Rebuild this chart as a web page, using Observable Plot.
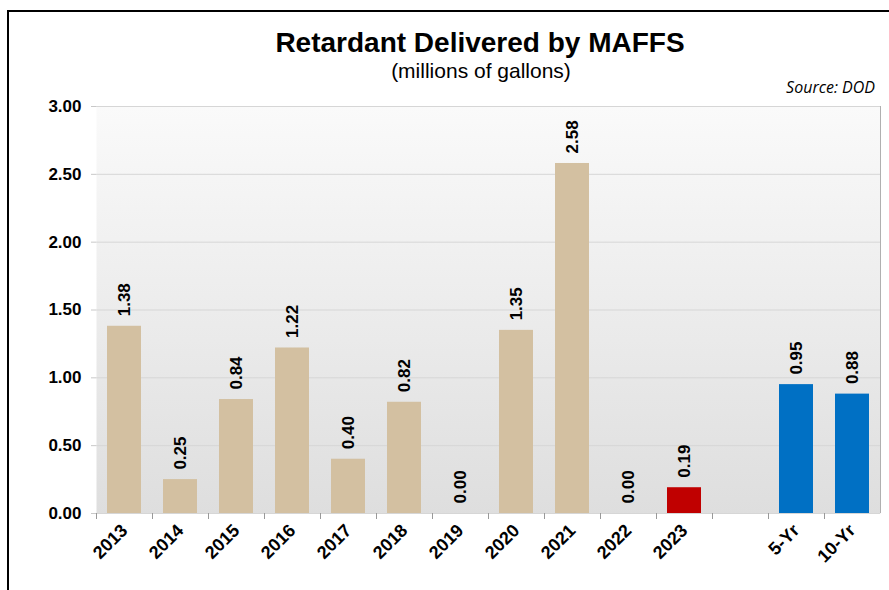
<!DOCTYPE html>
<html>
<head>
<meta charset="utf-8">
<script src="https://cdn.jsdelivr.net/npm/d3@7"></script>
<script src="https://cdn.jsdelivr.net/npm/@observablehq/plot@0.6"></script>
<style>
  html, body { margin: 0; padding: 0; background: #fff; }
  #wrap { position: relative; width: 889px; height: 590px; overflow: hidden; background: #fff; font-family: "Liberation Sans", Arial, sans-serif; }
  #border { position: absolute; left: 7px; top: 10px; right: -10px; bottom: -10px; border-left: 2px solid #000; border-top: 2px solid #000; }
  #title { position: absolute; left: 0; width: 960px; top: 29px; text-align: center; font-size: 28px; font-weight: bold; line-height: 1; color: #000; }
  #subtitle { position: absolute; left: 0; width: 962px; top: 60px; text-align: center; font-size: 21px; line-height: 1; color: #000; }
  #source { position: absolute; right: 14px; top: 79px; font-family: "Open Sans", sans-serif; font-style: italic; font-size: 16px; line-height: 1; color: #000; }
  #chart { position: absolute; left: 0; top: 95px; }
</style>
</head>
<body>
<div id="wrap">
  <div id="border"></div>
  <div id="title">Retardant Delivered by MAFFS</div>
  <div id="subtitle">(millions of gallons)</div>
  <div id="source">Source: DOD</div>
  <div id="chart"></div>
</div>
<script>
const categories = ["2013","2014","2015","2016","2017","2018","2019","2020","2021","2022","2023"," ","5-Yr","10-Yr"];
const values = [1.38, 0.25, 0.84, 1.22, 0.40, 0.82, 0.00, 1.35, 2.58, 0.00, 0.19, null, 0.95, 0.88];
const kinds = ["year","year","year","year","year","year","year","year","year","year","current",null,"average","average"];
const kindDomain = ["year", "current", "average"];
const kindColors = ["#d3c0a1", "#c00000", "#0070c4"];
const yTicks = [0, 0.5, 1.0, 1.5, 2.0, 2.5, 3.0];

const data = categories.map((c, i) => ({cat: c, value: values[i], kind: kinds[i]})).filter(d => d.value !== null);

const chart = Plot.plot({
  width: 889,
  height: 495,
  marginTop: 11,
  marginBottom: 77,
  marginLeft: 96,
  marginRight: 9,
  style: {fontFamily: "'Liberation Sans', Arial, sans-serif", fontSize: "17px", fontWeight: "bold", color: "#000", background: "transparent"},
  x: {type: "band", domain: categories, paddingInner: 0.39, paddingOuter: 0.195, align: 0.5},
  y: {domain: [0, 3]},
  color: {domain: kindDomain, range: kindColors},
  marks: [
    Plot.frame({fill: "url(#plotbg)", stroke: "none"}),
    Plot.gridY(yTicks, {stroke: "#d6d6d6", strokeOpacity: 1}),
    Plot.axisY(yTicks, {tickSize: 5, tickPadding: 10, tickFormat: d3.format(".2f"), stroke: "#c8c8c8", fill: "#000", fontSize: 17, label: null}),
    Plot.axisX({tickSize: 6, tickFormat: () => "", dx: -28, stroke: "#999", label: null}),
    Plot.axisX({tickSize: 0, tickRotate: -45, tickPadding: 14, tickFormat: d => d.trim(), fill: "#000", fontSize: 18, label: null}),
    Plot.ruleX(["10-Yr"], {dx: 28, stroke: "#b0b0b0"}),
    Plot.barY(data, {x: "cat", y: "value", fill: "kind"}),
    Plot.text(data, {x: "cat", y: "value", text: d => d3.format(".2f")(d.value), rotate: -90, textAnchor: "start", dy: -10, fill: "#000", fontSize: 17, fontWeight: "bold"})
  ]
});

const ns = "http://www.w3.org/2000/svg";
const defs = document.createElementNS(ns, "defs");
const grad = document.createElementNS(ns, "linearGradient");
grad.setAttribute("id", "plotbg");
grad.setAttribute("x1", "0"); grad.setAttribute("y1", "0");
grad.setAttribute("x2", "0"); grad.setAttribute("y2", "1");
[["0%", "#fafafa"], ["100%", "#dedede"]].forEach(([o, c]) => {
  const s = document.createElementNS(ns, "stop");
  s.setAttribute("offset", o); s.setAttribute("stop-color", c);
  grad.appendChild(s);
});
defs.appendChild(grad);
chart.insertBefore(defs, chart.firstChild);

document.getElementById("chart").appendChild(chart);
</script>
</body>
</html>
